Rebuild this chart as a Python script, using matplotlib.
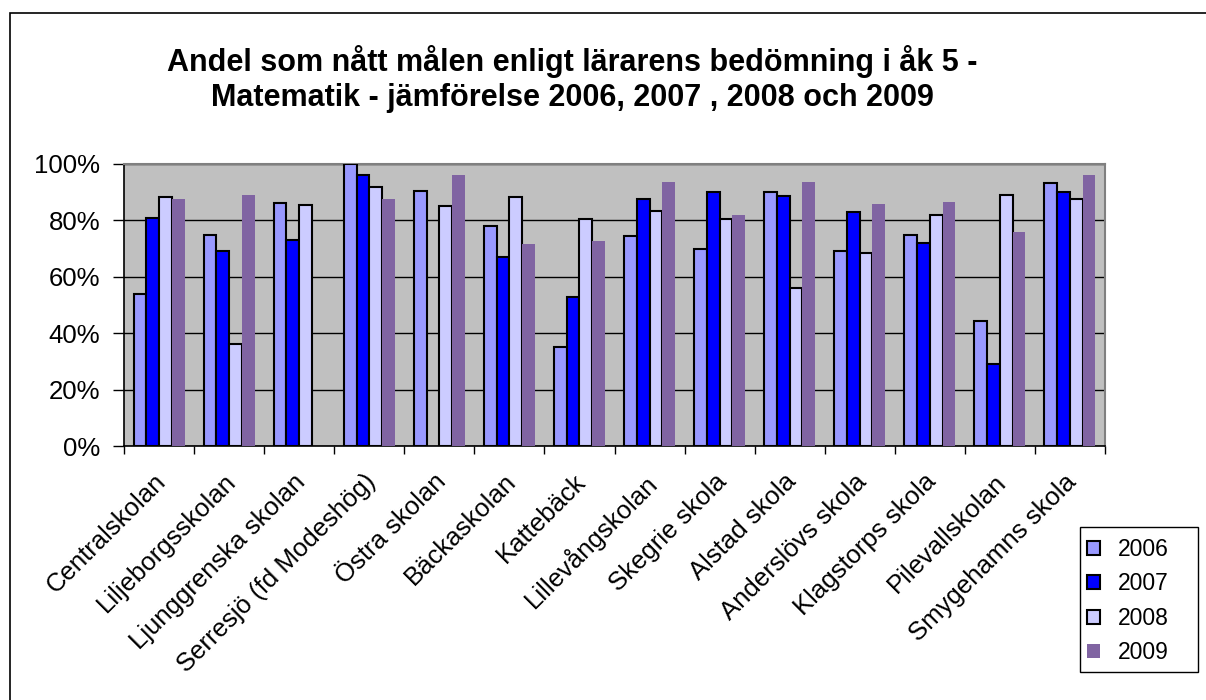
import matplotlib
matplotlib.use("Agg")
import matplotlib.pyplot as plt
from matplotlib.patches import Rectangle
from matplotlib.ticker import FuncFormatter, MultipleLocator
import numpy as np

plt.rcParams['font.family'] = ['Liberation Sans', 'DejaVu Sans']

skolor = ["Centralskolan", "Liljeborgsskolan", "Ljunggrenska skolan",
          "Serresjö (fd Modeshög)", "Östra skolan", "Bäckaskolan", "Kattebäck",
          "Lillevångskolan", "Skegrie skola", "Alstad skola", "Anderslövs skola",
          "Klagstorps skola", "Pilevallskolan", "Smygehamns skola"]
ar = ["2006", "2007", "2008", "2009"]

v2006 = [0.54, 0.75, 0.86, 1.00, 0.905, 0.78, 0.35, 0.745, 0.70, 0.90, 0.69, 0.75, 0.445, 0.934]
v2007 = [0.81, 0.69, 0.73, 0.96, np.nan, 0.67, 0.53, 0.876, 0.90, 0.885, 0.83, 0.72, 0.29, 0.90]
v2008 = [0.884, 0.36, 0.855, 0.92, 0.85, 0.884, 0.806, 0.832, 0.806, 0.56, 0.683, 0.82, 0.89, 0.876]
v2009 = [0.875, 0.889, np.nan, 0.875, 0.96, 0.717, 0.727, 0.936, 0.818, 0.936, 0.858, 0.866, 0.758, 0.96]

serier = [v2006, v2007, v2008, v2009]
farger = ["#9999FF", "#0000FF", "#CCCCFF", "#8064A2"]

W, H = 1206, 700
fig = plt.figure(figsize=(W/100, H/100), dpi=100)
# outer chart border
fig.patches.append(Rectangle((10/W, -0.1), 1.2, 1 - 13/H + 0.1, transform=fig.transFigure,
                             fill=False, edgecolor="black", linewidth=1.2))

ax = fig.add_axes([124/W, 1 - 446/H, (1105-124)/W, (446-164)/H])
ax.set_facecolor("#C0C0C0")

x = np.arange(len(skolor))
w = 1 / 5.5
for i, (vals, c) in enumerate(zip(serier, farger)):
    off = (i - 1.5) * w
    if i == 3:
        ax.bar(x + off, vals, w, color=c, edgecolor="none", label=ar[i], zorder=3)
    else:
        ax.bar(x + off, vals, w, color=c, edgecolor="black", linewidth=1.5, label=ar[i], zorder=3)

ax.set_xlim(-0.5, len(skolor) - 0.5)
ax.set_ylim(0, 1)
ax.yaxis.set_major_locator(MultipleLocator(0.2))
ax.yaxis.set_major_formatter(FuncFormatter(lambda v, p: f"{v*100:.0f}%"))
ax.grid(axis="y", color="black", linewidth=1, zorder=1)
ax.set_axisbelow(True)

# ticks between the groups, labels under each group
ax.set_xticks(np.arange(len(skolor) + 1) - 0.5, minor=False)
ax.set_xticklabels([])
ax.set_xticks(x - 0.08, minor=True)
ax.set_xticklabels(skolor, minor=True, rotation=45, ha="right", va="top",
                   rotation_mode="anchor", fontsize=18.5)
ax.tick_params(axis="x", which="minor", length=0, pad=17)
ax.tick_params(axis="x", which="major", length=6, width=1, direction="out")
ax.tick_params(axis="y", length=8, width=1, direction="out", labelsize=18.5, pad=9)

for s in ["top", "right"]:
    ax.spines[s].set_color("#808080")
    ax.spines[s].set_linewidth(1.5)
for s in ["left", "bottom"]:
    ax.spines[s].set_color("black")
    ax.spines[s].set_linewidth(1.2)

fig.text(572/W, 1 - 79/H,
         "Andel som nått målen enligt lärarens bedömning i åk 5 -\nMatematik - jämförelse 2006, 2007 , 2008 och 2009",
         ha="center", va="center", fontsize=22, fontweight="bold", linespacing=1.2)

# legend box drawn separately, entries placed inside it
fig.patches.append(Rectangle((1080/W, 1 - 672/H), 118/W, 145/H, transform=fig.transFigure,
                             fill=False, edgecolor="black", linewidth=1.0))
leg = fig.legend(loc="upper left", bbox_to_anchor=(1087/W, 1 - 538/H),
                 fontsize=16.5, frameon=False,
                 handlelength=0.55, handleheight=0.55, handletextpad=0.8,
                 labelspacing=0.5, borderpad=0, borderaxespad=0)

fig.savefig("out.png", dpi=100)
